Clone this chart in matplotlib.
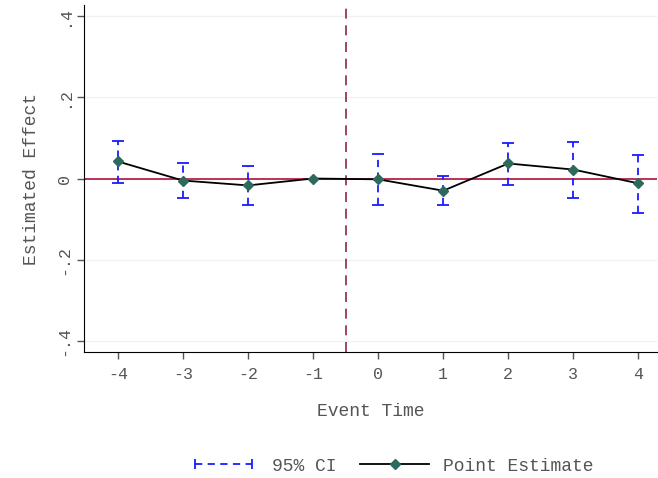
import matplotlib.pyplot as plt
from matplotlib.lines import Line2D
from matplotlib.legend_handler import HandlerLine2D

# Данные: время события, точечные оценки и 95% доверительные интервалы
event_time = [-4, -3, -2, -1, 0, 1, 2, 3, 4]
estimate = [0.042, -0.005, -0.017, 0.0, -0.002, -0.030, 0.037, 0.022, -0.012]
ci_low = [-0.012, -0.047, -0.066, 0.0, -0.066, -0.066, -0.017, -0.049, -0.086]
ci_high = [0.093, 0.039, 0.032, 0.0, 0.061, 0.007, 0.088, 0.091, 0.059]
y_ticks = [-0.4, -0.2, 0, 0.2, 0.4]
y_labels = ["-.4", "-.2", "0", ".2", ".4"]

plt.rcParams['font.family'] = ['Liberation Mono', 'DejaVu Sans Mono']
txt_color = "#555555"

fig = plt.figure(figsize=(6.58, 4.78), dpi=100)
ax = fig.add_axes([0.1277, 0.2636, 0.8713, 0.7259])

# Сетка по оси Y
for yv in y_ticks:
    ax.axhline(yv, color="#eef2f4", linewidth=1, zorder=0)

# Доверительные интервалы (без периода -1)
idx = [i for i in range(len(event_time)) if event_time[i] != -1]
xs = [event_time[i] for i in idx]
ys = [estimate[i] for i in idx]
err_lo = [estimate[i] - ci_low[i] for i in idx]
err_hi = [ci_high[i] - estimate[i] for i in idx]
eb = ax.errorbar(xs, ys, yerr=[err_lo, err_hi], fmt='none', ecolor="#1a1aff",
                 elinewidth=1.3, capsize=4.5, capthick=1.3, zorder=3)
eb[2][0].set_linestyle((0, (4, 3)))

# Нулевая линия и вертикальная линия
ax.axhline(0, color="#b0123e", linewidth=1.2, zorder=2)
ax.axvline(-0.5, color="#8c2a3c", linewidth=1.2, linestyle=(0, (6, 4)), zorder=2)

# Точечные оценки
ax.plot(event_time, estimate, color="black", linewidth=1.3, marker="D",
        markersize=5.5, markerfacecolor="#2d6a5d", markeredgecolor="#2d6a5d", zorder=4)

ax.set_xlim(-4.52, 4.29)
ax.set_ylim(-0.427, 0.427)
ax.set_xticks(event_time)
ax.set_xticklabels([str(t) for t in event_time], fontsize=12, color=txt_color)
ax.set_yticks(y_ticks)
ax.set_yticklabels(y_labels, rotation=90, va="center", fontsize=12, color=txt_color)
ax.tick_params(axis="both", direction="out", length=5, width=1, colors="#555555",
               labelcolor=txt_color)
ax.tick_params(axis="y", pad=4)
ax.tick_params(axis="x", pad=6)

ax.spines["top"].set_visible(False)
ax.spines["right"].set_visible(False)

ax.set_xlabel("Event Time", fontsize=13, color=txt_color, labelpad=15)
ax.set_ylabel("Estimated Effect", fontsize=13, color=txt_color, labelpad=12)

# Легенда
h_ci = Line2D([], [], color="#1a1aff", linewidth=1.3, linestyle=(0, (4, 3)),
              marker="|", markersize=7, markeredgewidth=1.3)
h_pt = Line2D([], [], color="black", linewidth=1.3, marker="D", markersize=5.5,
              markerfacecolor="#2d6a5d", markeredgecolor="#2d6a5d")
fig.legend([h_ci, h_pt], ["95% CI", "Point Estimate"], loc="center",
           bbox_to_anchor=(0.595, 0.025), ncol=2, frameon=False, fontsize=13,
           handlelength=3.8, handletextpad=0.8, columnspacing=1.3,
           handler_map={h_ci: HandlerLine2D(numpoints=2), h_pt: HandlerLine2D(numpoints=1)},
           labelcolor=txt_color)

fig.savefig("out.png", dpi=100)
